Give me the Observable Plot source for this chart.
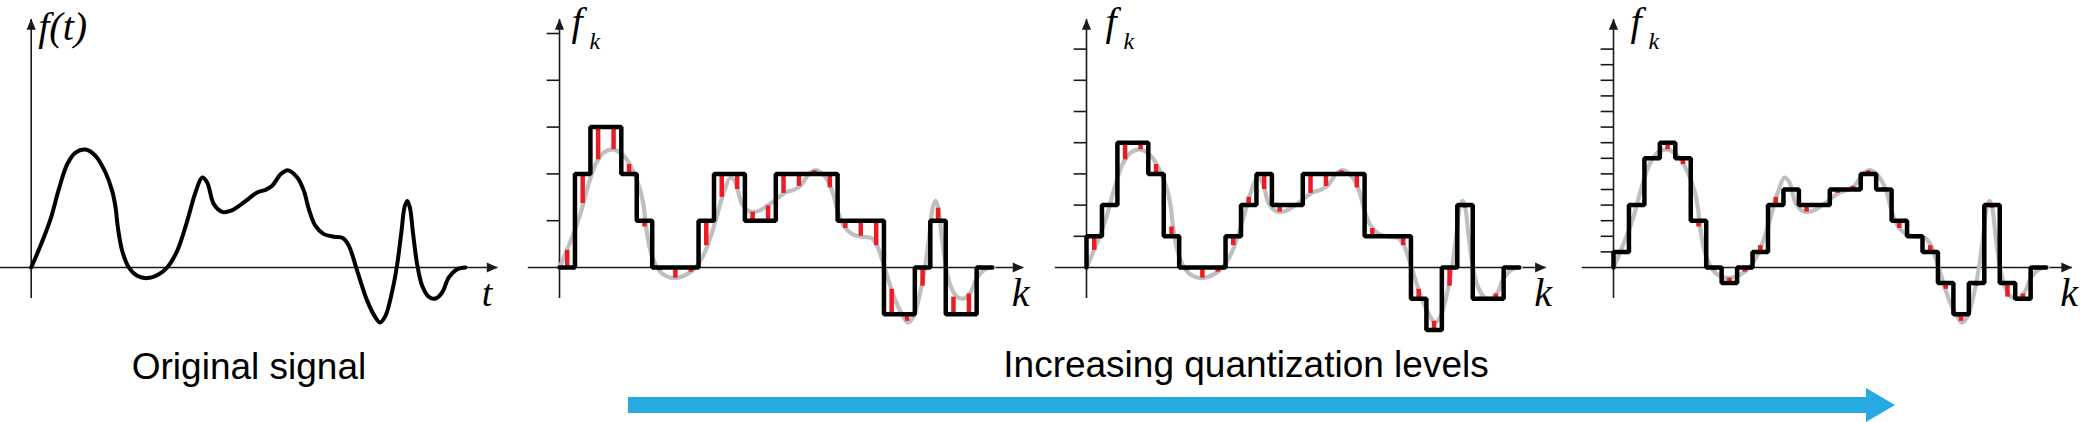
<!DOCTYPE html>
<html><head><meta charset="utf-8">
<script src="https://cdn.jsdelivr.net/npm/d3@7"></script>
<script src="https://cdn.jsdelivr.net/npm/@observablehq/plot@0.6"></script>
<style>
html,body{margin:0;padding:0;background:#fff;}
#fig{position:relative;width:2091px;height:422px;overflow:hidden;background:#fff;}
#fig > svg{position:absolute;top:0;}
</style></head><body><div id="fig"></div>
<script>
// ---- data ----
// continuous signal f(t): t in sample units, value in signal units
const signalT = [0,0.60,1.25,1.79,2.33,2.87,3.52,4.16,4.81,5.24,5.46,5.61,5.89,6.32,6.86,7.51,8.26,8.80,9.45,10.10,10.63,11.07,11.39,11.82,12.36,12.90,13.76,14.63,15.17,15.60,16.14,16.61,17.22,17.65,17.97,18.40,18.94,19.59,20.19,20.56,21.10,21.75,22.29,22.57,22.93,23.37,23.69,23.97,24.16,24.34,24.51,24.72,24.98,25.31,25.74,26.17,26.60,27.03,27.57,28.11];
const signalV = [0,1.39,3.10,5.02,6.62,7.37,7.56,7.16,6.09,4.91,3.85,2.56,1.07,0,-0.53,-0.68,-0.43,0,1.07,2.99,4.81,5.77,5.45,4.06,3.57,3.63,4.17,4.81,4.98,5.24,5.98,6.24,5.77,4.91,3.74,2.67,2.14,1.97,1.88,1.39,-0.21,-2.14,-3.21,-3.53,-3.10,-1.50,0.21,2.35,3.85,4.27,3.85,2.14,0.21,-1.18,-1.88,-1.99,-1.60,-0.64,-0.11,0];
// sample index k and sampled values f_k
const sampleK = [0,1,2,3,4,5,6,7,8,9,10,11,12,13,14,15,16,17,18,19,20,21,22,23,24,25,26,27];
const sampleF = [1.1,4.1,6.9,7.55,6.6,2.6,-0.2,-0.68,-0.3,1.4,4.5,5.0,3.55,3.95,4.75,5.2,6.2,5.1,2.5,2.0,1.4,-1.4,-3.45,-1.2,3.8,-1.9,-1.7,-0.15];
// quantized level index per sample for each panel (coarse -> fine)
const quantCoarse = [0,2,3,3,2,1,0,0,0,1,2,2,1,1,2,2,2,2,1,1,1,-1,-1,0,1,-1,-1,0];
const quantMedium = [1,2,4,4,3,1,0,0,0,1,2,3,2,2,3,3,3,3,1,1,1,-1,-2,0,2,-1,-1,0];
const quantFine   = [1,4,7,8,7,3,0,-1,0,1,4,5,4,4,5,5,6,5,3,2,1,-1,-3,-1,4,-1,-2,0];
// level size (signal units) for each quantized panel
const levelSteps = [3, 2, 1];
// y-axis tick levels per quantized panel
const ticksCoarse = [1,2,3,4,5];
const ticksMedium = [1,2,3,4,5,6,7];
const ticksFine   = [1,2,3,4,5,6,7,8,9,10,11,12,13,14];
const captionLeft = "Original signal";
const captionRight = "Increasing quantization levels";

// ---- layout ----
const PX_T = 15.45, PX_V = 15.6, ZERO_Y = 267, H = 330, W = 526, LEFT = 34;
const RED = "#ec1c24", GRAY = "#bfbfbf", AX = "#1a1a1a";
const serif = "'Liberation Serif','Times New Roman',serif";
const arrowUp = {draw(ctx){ctx.moveTo(0,0);ctx.lineTo(-4.6,11);ctx.lineTo(4.6,11);ctx.closePath();}};
const arrowRight = {draw(ctx){ctx.moveTo(0,0);ctx.lineTo(-11,-5);ctx.lineTo(-11,5);ctx.closePath();}};
const curveData = signalT.map((t,i)=>({t, v: signalV[i]}));

function makePanel(cfg) {
  const left = Math.max(0, cfg.axisX - LEFT);
  const x0 = cfg.axisX - left;
  const marks = [];
  // axes
  marks.push(Plot.ruleY([0], {x1: -2.02, x2: cfg.xEnd, stroke: AX, strokeWidth: 1.6}));
  marks.push(Plot.ruleX([0], {y1: -1.99, y2: 15.9, stroke: AX, strokeWidth: 1.6}));
  marks.push(Plot.dot([0], {x: 0, y: 15.95, symbol: arrowUp, r: 5, fill: AX, stroke: "none"}));
  marks.push(Plot.dot([0], {x: cfg.xEnd, y: 0, symbol: arrowRight, r: 5, fill: AX, stroke: "none"}));
  if (cfg.q) {
    const step = cfg.step;
    marks.push(Plot.ruleY(cfg.ticks, {y: d => d * step, x1: -0.8, x2: 0, stroke: AX, strokeWidth: 1.6}));
    marks.push(Plot.line(curveData, {x: "t", y: "v", curve: "catmull-rom", stroke: GRAY, strokeWidth: 4.2}));
    marks.push(Plot.ruleX(sampleK, {x: k => k + 0.5, y1: k => cfg.q[k] * step, y2: k => sampleF[k], stroke: RED, strokeWidth: 4.5}));
    const stepPts = [{x: 0, y: 0}, ...sampleK.map(k => ({x: k, y: cfg.q[k] * step})), {x: 28, y: cfg.q[27] * step}];
    marks.push(Plot.line(stepPts, {x: "x", y: "y", curve: "step-after", stroke: "black", strokeWidth: 4.5, strokeLinejoin: "miter"}));
    marks.push(Plot.text(["f"], {x: 0, y: 0, dx: cfg.fdx, dy: -233, textAnchor: "start", lineAnchor: "bottom", fontSize: 40, fontStyle: "italic", fontFamily: serif, fill: "black"}));
    marks.push(Plot.text(["k"], {x: 0, y: 0, dx: cfg.fdx + 18, dy: -219, textAnchor: "start", lineAnchor: "bottom", fontSize: 24, fontStyle: "italic", fontFamily: serif, fill: "black"}));
    marks.push(Plot.text(["k"], {x: cfg.xEnd, y: 0, dx: -12, dy: 38, textAnchor: "start", lineAnchor: "bottom", fontSize: 40, fontStyle: "italic", fontFamily: serif, fill: "black"}));
  } else {
    marks.push(Plot.line(curveData, {x: "t", y: "v", curve: "catmull-rom", stroke: "black", strokeWidth: 4}));
    marks.push(Plot.text(["f(t)"], {x: 0, y: 0, dx: 7, dy: -228, textAnchor: "start", lineAnchor: "bottom", fontSize: 40, fontStyle: "italic", fontFamily: serif, fill: "black", letterSpacing: 1}));
    marks.push(Plot.text(["t"], {x: cfg.xEnd, y: 0, dx: -16, dy: 38, textAnchor: "start", lineAnchor: "bottom", fontSize: 38, fontStyle: "italic", fontFamily: serif, fill: "black"}));
  }
  const svg = Plot.plot({
    width: W, height: H,
    x: {domain: [0, 28], range: [x0, x0 + 28 * PX_T], axis: null},
    y: {domain: [0, 10], range: [ZERO_Y, ZERO_Y - 10 * PX_V], axis: null},
    style: {background: "transparent", overflow: "visible", maxWidth: "none"},
    marks
  });
  svg.style.left = left + "px";
  return svg;
}

const fig = document.getElementById("fig");
const panels = [
  {axisX: 30.7, xEnd: 30.2},
  {axisX: 559, xEnd: 30.05, q: quantCoarse, step: levelSteps[0], ticks: ticksCoarse, fdx: 12},
  {axisX: 1085.7, xEnd: 29.75, q: quantMedium, step: levelSteps[1], ticks: ticksMedium, fdx: 19},
  {axisX: 1612.7, xEnd: 29.7, q: quantFine, step: levelSteps[2], ticks: ticksFine, fdx: 17}
];
for (const p of panels) fig.appendChild(makePanel(p));

// captions and the blue arrow
const ns = "http://www.w3.org/2000/svg";
const ov = document.createElementNS(ns, "svg");
ov.setAttribute("width", 2091); ov.setAttribute("height", 422);
ov.style.left = "0px";
ov.innerHTML = `
<polygon points="628,397 1866,397 1866,388 1895,405 1866,422 1866,413 628,413" fill="#27a9e1"/>
<text x="249" y="379" text-anchor="middle" font-family="'Liberation Sans',Arial,sans-serif" font-size="37" fill="#000">${captionLeft}</text>
<text x="1246" y="377" text-anchor="middle" font-family="'Liberation Sans',Arial,sans-serif" font-size="37" fill="#000">${captionRight}</text>`;
fig.appendChild(ov);
</script></body></html>
